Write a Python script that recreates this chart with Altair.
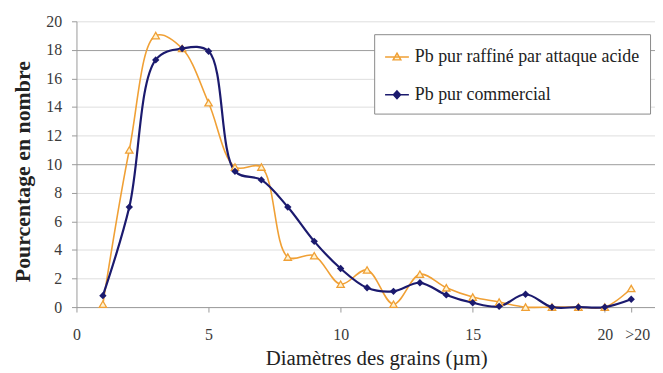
import altair as alt
import pandas as pd

# ---- data ----
diam = list(range(1, 22))  # 21 stands for ">20"
raffine = [0.2, 11.0, 19.0, 18.1, 14.3, 9.8, 9.8, 3.5, 3.6, 1.6, 2.6, 0.2,
           2.3, 1.35, 0.7, 0.35, 0.0, 0.0, 0.0, 0.0, 1.3]
commercial = [0.8, 7.0, 17.3, 18.1, 17.9, 9.5, 8.9, 7.0, 4.6, 2.7, 1.35, 1.1,
              1.7, 0.85, 0.3, 0.05, 0.9, 0.0, 0.0, 0.0, 0.55]
series_names = ["Pb pur raffiné par attaque acide", "Pb pur commercial"]
x_ticks = [0, 5, 10, 15, 20, 21]
y_ticks = list(range(0, 21, 2))

ORANGE = "#f0a035"
NAVY = "#1b1a6e"
PALE = "#fff3d2"
FONT = "Liberation Serif"

df = pd.concat([
    pd.DataFrame({"d": diam, "v": raffine, "s": series_names[0]}),
    pd.DataFrame({"d": diam, "v": commercial, "s": series_names[1]}),
])

x_enc = alt.X("d:Q", scale=alt.Scale(domain=[0, 21.9], nice=False),
              axis=alt.Axis(values=x_ticks, tickCount=len(x_ticks),
                            labelExpr="datum.value == 21 ? '>20' : datum.label",
                            labelOffset={"condition": {"test": "datum.value == 21", "value": 6}, "value": 0},
                            grid=False, tickSize=5, labelPadding=15, labelFlush=False,
                            domainColor="#9a9a9a", tickColor="#9a9a9a",
                            labelFont=FONT, labelFontSize=16, labelColor="#3a3a3a",
                            title="Diamètres des grains (µm)", titleFont=FONT,
                            titleFontSize=21, titleFontWeight="normal", titleColor="#222222",
                            titleX=302, titleY=52, titleBaseline="middle"))
y_enc = alt.Y("v:Q", scale=alt.Scale(domain=[0, 20], nice=False),
              axis=alt.Axis(values=y_ticks, tickCount=len(y_ticks), labelOverlap=False,
                            tickSize=5, labelPadding=10,
                            gridColor={"condition": {"test": "datum.value == 10 || datum.value == 18",
                                                     "value": "#9c9c9c"}, "value": "#dedede"},
                            domainColor="#9a9a9a", tickColor="#9a9a9a",
                            labelFont=FONT, labelFontSize=16, labelColor="#3a3a3a",
                            title="Pourcentage en nombre", titleFont=FONT,
                            titleFontSize=22, titleFontWeight="bold", titleColor="#222222",
                            titleX=-54, titleY=151, titleBaseline="middle"))

base = alt.Chart(df)

lines = base.mark_line(interpolate="catmull-rom").encode(
    x=x_enc, y=y_enc,
    color=alt.Color("s:N", scale=alt.Scale(domain=series_names, range=[ORANGE, NAVY]), legend=None),
    strokeWidth=alt.StrokeWidth("s:N", scale=alt.Scale(domain=series_names, range=[1.6, 2.2]), legend=None),
)

pts_o = base.transform_filter(alt.datum.s == series_names[0]).mark_point(
    shape="triangle-up", filled=True, fill=PALE, stroke=ORANGE, strokeWidth=1.3,
    size=55, opacity=1).encode(x="d:Q", y="v:Q")

pts_n = base.transform_filter(alt.datum.s == series_names[1]).mark_point(
    shape="diamond", filled=True, color=NAVY, size=55, opacity=1).encode(x="d:Q", y="v:Q")

tri_path = "M-1,0L1,0M0,-0.32L0.32,0.24L-0.32,0.24Z"
dia_path = "M-1,0L1,0M0,-0.32L0.3,0L0,0.32L-0.3,0Z"
leg = alt.Legend(orient="none", legendX=300, legendY=13, title=None,
                 fillColor="white", strokeColor="#8a8a8a", padding=10,
                 rowPadding=16, symbolSize=576, labelFont=FONT, labelFontSize=18,
                 labelColor="#222222", labelOffset=5, labelLimit=0,
                 symbolStrokeWidth=1.5)
legend_layer = base.transform_filter("false").mark_point(filled=False, opacity=1, strokeWidth=1.5).encode(
    x="d:Q", y="v:Q",
    color=alt.Color("s:N", scale=alt.Scale(domain=series_names, range=[ORANGE, NAVY]), legend=leg),
    shape=alt.Shape("s:N", scale=alt.Scale(domain=series_names, range=[tri_path, dia_path]), legend=leg),
    fill=alt.Fill("s:N", scale=alt.Scale(domain=series_names, range=[PALE, NAVY]), legend=leg),
)

chart = alt.layer(lines, pts_o, pts_n, legend_layer).resolve_scale(
    color="independent", shape="independent", fill="independent", strokeWidth="independent"
).properties(
    width=583, height=288,
    autosize=alt.AutoSizeParams(type="none"),
    padding={"left": 69, "top": 12, "right": 0, "bottom": 62},
    background="white",
).configure_view(stroke=None)

chart.save("out.html", embed_options={"renderer": "svg", "actions": False})
